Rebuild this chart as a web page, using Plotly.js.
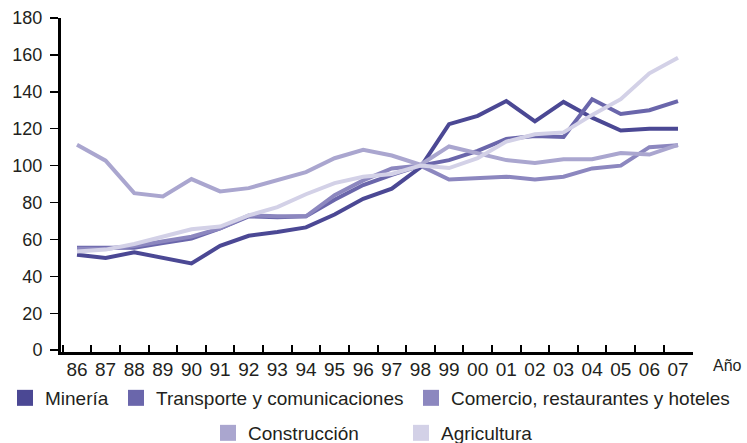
<!DOCTYPE html>
<html>
<head>
<meta charset="utf-8">
<script src="https://cdn.plot.ly/plotly-3.0.1.min.js"></script>
<style>html,body{margin:0;padding:0;background:#fff;}#chart{width:747px;height:443px;}</style>
</head>
<body>
<div id="chart"></div>
<script>
const years = ['86','87','88','89','90','91','92','93','94','95','96','97','98','99','00','01','02','03','04','05','06','07'];
const seriesNames = ['Minería','Transporte y comunicaciones','Comercio, restaurantes y hoteles','Construcción','Agricultura'];
const mineria      = [51.7, 50, 53, 50, 47, 56.5, 62, 64, 66.5, 73.5, 82, 87.5, 99, 122.5, 127, 135, 124, 134.5, 126, 119, 120, 120];
const transporte   = [55.5, 55.5, 55.5, 58, 60.5, 66, 72.5, 72, 72.5, 81.5, 89.5, 95, 100, 103, 108, 114.5, 116, 115.5, 136, 128, 130, 135];
const comercio     = [55, 55, 56.5, 59, 61.5, 66, 73, 72.5, 72.5, 84, 92, 98.5, 100, 92.5, 93.5, 94, 92.5, 94, 98.5, 100, 110, 111];
const construccion = [111.3, 102.7, 85.1, 83.3, 92.7, 86, 87.8, 92, 96.5, 104, 108.6, 105.5, 100.5, 110.4, 106.8, 103, 101.4, 103.5, 103.5, 106.8, 106, 111.3];
const agricultura  = [53.5, 54.5, 57.5, 61.5, 65.5, 67, 73, 77.5, 84.5, 90.5, 94, 95.5, 100, 98.7, 104, 113, 117, 118, 127.5, 136, 150, 158.5];
const colors = ['#4b4894', '#6a66ab', '#8c87bf', '#aaa6cf', '#d3d1e7'];
const values = [mineria, transporte, comercio, construccion, agricultura];
const legendIds = ['legend', 'legend2', 'legend3', 'legend4', 'legend5'];

const traces = [];
values.forEach((v, i) => {
  traces.push({
    type: 'scatter', mode: 'lines', x: years, y: v, name: seriesNames[i],
    line: {color: colors[i], width: 4}, showlegend: false, hoverinfo: 'skip'
  });
});
values.forEach((v, i) => {
  traces.push({
    type: 'scatter', mode: 'markers', x: [null], y: [null], name: seriesNames[i],
    marker: {symbol: 'square', size: 16, color: colors[i]},
    showlegend: true, legend: legendIds[i], hoverinfo: 'skip'
  });
});

const legendBase = {orientation: 'h', xanchor: 'left', yanchor: 'middle', bgcolor: 'rgba(0,0,0,0)',
  font: {family: 'Liberation Sans, Arial, sans-serif', size: 19, color: '#231f20'}};
const layout = {
  width: 747, height: 443,
  margin: {l: 61, r: 54, t: 18, b: 91, autoexpand: false},
  paper_bgcolor: '#ffffff', plot_bgcolor: '#ffffff',
  font: {family: 'Liberation Sans, Arial, sans-serif', color: '#231f20'},
  xaxis: {
    type: 'category', range: [-0.559, 21.524], showgrid: false, zeroline: false,
    showline: true, linecolor: '#000', linewidth: 3,
    ticks: 'inside', ticklen: 7, tickwidth: 2, tickcolor: '#000', tickson: 'boundaries',
    tickangle: 0, ticklabelstandoff: -2,
    tickfont: {family: 'Liberation Sans, Arial, sans-serif', size: 19, color: '#231f20'}
  },
  yaxis: {
    range: [-1, 180], tick0: 0, dtick: 20, showgrid: false, zeroline: false,
    showline: true, linecolor: '#000', linewidth: 3,
    ticks: 'outside', ticklen: 8, tickwidth: 1.5, tickcolor: '#000',
    ticklabelstandoff: 4,
    tickfont: {size: 18, color: '#231f20'}
  },
  legend:  Object.assign({}, legendBase, {x: -0.0886, y: -0.1377}),
  legend2: Object.assign({}, legendBase, {x: 0.0870, y: -0.1377}),
  legend3: Object.assign({}, legendBase, {x: 0.5538, y: -0.1377}),
  legend4: Object.assign({}, legendBase, {x: 0.2326, y: -0.2425}),
  legend5: Object.assign({}, legendBase, {x: 0.5380, y: -0.2425}),
  annotations: [{
    text: 'Año', xref: 'paper', yref: 'paper', x: 1.054, y: -0.039,
    xanchor: 'center', yanchor: 'middle', showarrow: false,
    font: {size: 16, color: '#231f20'}
  }]
};
Plotly.newPlot('chart', traces, layout, {displayModeBar: false, staticPlot: true});
</script>
</body>
</html>
